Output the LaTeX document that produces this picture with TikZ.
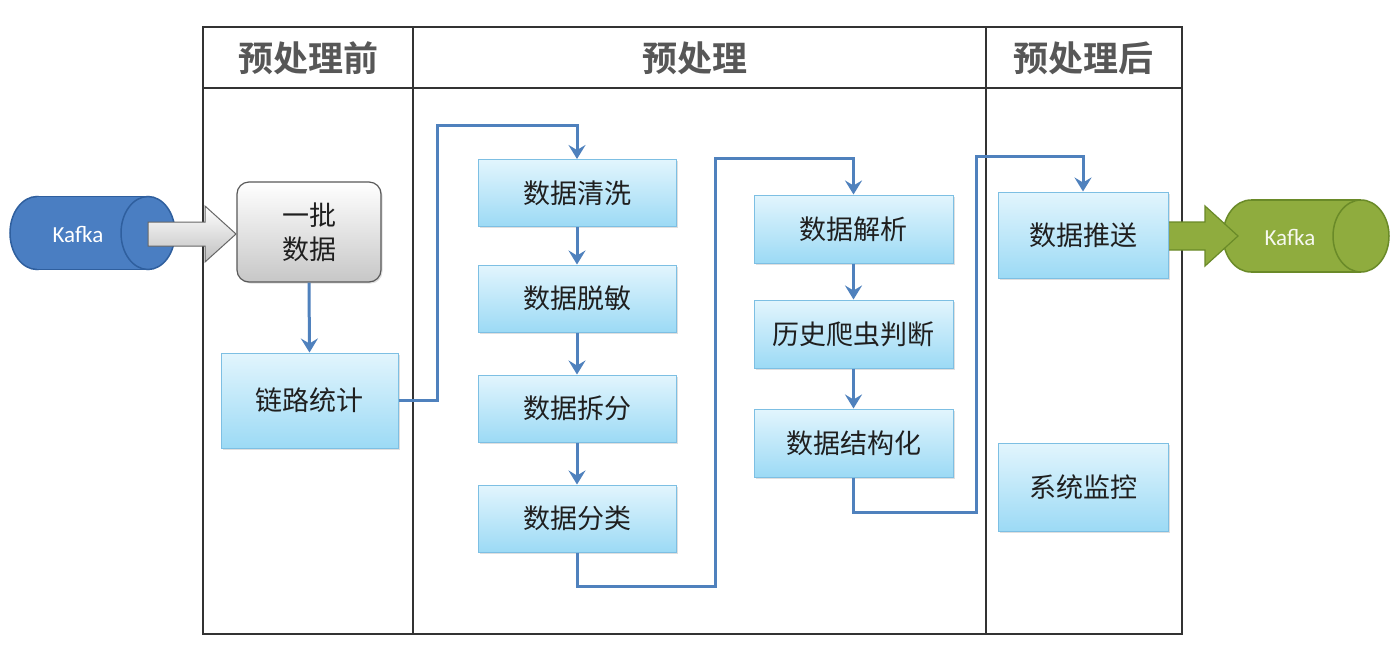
\documentclass[tikz,border=0pt]{standalone}
\usepackage{fontspec}
\newfontfamily\cjk{Noto Sans CJK SC}
\newfontfamily\cjkb{Noto Sans CJK SC Bold}
\newfontfamily\kaf{Carlito}
\usetikzlibrary{arrows.meta,shadows,calc}
\definecolor{conn}{HTML}{4F81BD}
\definecolor{boxtop}{HTML}{E2F5FD}
\definecolor{boxbot}{HTML}{9CDAF5}
\definecolor{boxline}{HTML}{7DBFE3}
\definecolor{kblue}{HTML}{4A7EC2}
\definecolor{kblueline}{HTML}{2F5F9E}
\definecolor{kgreen}{HTML}{8FAC3E}
\definecolor{kgreenline}{HTML}{6A8A28}
\definecolor{hdr}{HTML}{575757}
\tikzset{
  stepbox/.style={draw=boxline, line width=1pt, top color=boxtop, bottom color=boxbot,
    minimum width=198pt, minimum height=67pt, inner sep=0pt,
    font=\cjk\fontsize{27}{32}\selectfont, text=black!88,
    drop shadow={opacity=0.25, shadow xshift=1.5pt, shadow yshift=-1.5pt}},
  connector/.style={draw=conn, line width=3pt, -{Stealth[length=14pt,width=17pt,inset=5pt]}},
  frame/.style={draw=black!80, line width=2pt},
  hdrtext/.style={font=\cjkb\fontsize{35}{38}\selectfont, text=hdr},
  kafkatext/.style={font=\kaf\fontsize{23}{26}\selectfont, text=white}
}
\begin{document}
\begin{tikzpicture}[x=1pt,y=-1pt]
\useasboundingbox (0,0) rectangle (1400,662);
\fill[white] (0,0) rectangle (1400,662);
% table frame
\draw[frame] (203,27) rectangle (1182,634);
\draw[frame] (203,88) -- (1182,88);
\draw[frame] (413,27) -- (413,634);
\draw[frame] (986,27) -- (986,634);
\node[hdrtext] (h1) at (308,58) {预处理前};
\node[hdrtext] (h2) at (695,58) {预处理};
\node[hdrtext] (h3) at (1083,58) {预处理后};
% left kafka cylinder
\filldraw[fill=kblue, draw=kblueline, line width=1.5pt] (37,233) ellipse [x radius=27, y radius=36.5];
\fill[kblue] (37,196.5) rectangle (148,269.5);
\draw[kblueline, line width=1.5pt] (37,196.5) -- (148,196.5) (37,269.5) -- (148,269.5);
\filldraw[fill=kblue, draw=kblueline, line width=1.5pt] (148,233) ellipse [x radius=27, y radius=36.5];
\node[kafkatext] (k1) at (78,234) {Kafka};
% grey batch box
\node[draw=black!65, line width=1.2pt, rounded corners=12pt, top color=white, bottom color=black!22,
  minimum width=144pt, minimum height=100pt, align=center,
  font=\cjk\fontsize{27}{34}\selectfont, text=black!88,
  drop shadow={opacity=0.25, shadow xshift=1.5pt, shadow yshift=-1.5pt}] (pd) at (309,232) {一批\\数据};
% grey block arrow
\draw[draw=black!60, line width=1pt, top color=white, bottom color=black!25]
  (148,222) -- (205,222) -- (205,206) -- (236,234) -- (205,262) -- (205,246) -- (148,246) -- cycle;
% right kafka cylinder
\filldraw[fill=kgreen, draw=kgreenline, line width=1.5pt] (1251,236) ellipse [x radius=28, y radius=36];
\fill[kgreen] (1251,200) rectangle (1361,272);
\draw[kgreenline, line width=1.5pt] (1251,200) -- (1361,200) (1251,272) -- (1361,272);
\filldraw[fill=kgreen, draw=kgreenline, line width=1.5pt] (1361,236) ellipse [x radius=28, y radius=36];
\node[kafkatext, text=white!92!kgreen] (k2) at (1290,237) {Kafka};
% green block arrow
\filldraw[fill=kgreen, draw=kgreenline, line width=1.2pt]
  (1168,222) -- (1205,222) -- (1205,206) -- (1238,236) -- (1205,266) -- (1205,250) -- (1168,250) -- cycle;
% process boxes
\node[stepbox, minimum width=177pt, minimum height=95pt] (ll) at (309.5,400.5) {链路统计};
\node[stepbox] (qx) at (577,193) {数据清洗};
\node[stepbox] (tm) at (577,298.5) {数据脱敏};
\node[stepbox] (cf) at (577,408.5) {数据拆分};
\node[stepbox] (fl) at (577,518.5) {数据分类};
\node[stepbox, minimum width=199pt, minimum height=68pt] (jx) at (853.5,229) {数据解析};
\node[stepbox, minimum width=199pt, minimum height=68pt] (ls) at (853.5,334) {历史爬虫判断};
\node[stepbox, minimum width=199pt, minimum height=68pt] (jg) at (853.5,443) {数据结构化};
\node[stepbox, minimum width=170pt, minimum height=86pt] (ts) at (1083,235) {数据推送};
\node[stepbox, minimum width=170pt, minimum height=88pt] (jk) at (1083,487) {系统监控};
% connectors
\draw[connector] (pd.south) -- (ll.north);
\draw[connector] (ll.east) -- (437,400.5) -- (437,125) -- (qx.north |- 0,125) -- (qx.north);
\draw[connector] (qx.south) -- (tm.north);
\draw[connector] (tm.south) -- (cf.north);
\draw[connector] (cf.south) -- (fl.north);
\draw[connector] (fl.south) -- (fl.south |- 0,586) -- (715,586) -- (715,158) -- (jx.north |- 0,158) -- (jx.north);
\draw[connector] (jx.south) -- (ls.north);
\draw[connector] (ls.south) -- (jg.north);
\draw[connector] (jg.south) -- (jg.south |- 0,512) -- (976,512) -- (976,156) -- (ts.north |- 0,156) -- (ts.north);
\end{tikzpicture}
\end{document}
